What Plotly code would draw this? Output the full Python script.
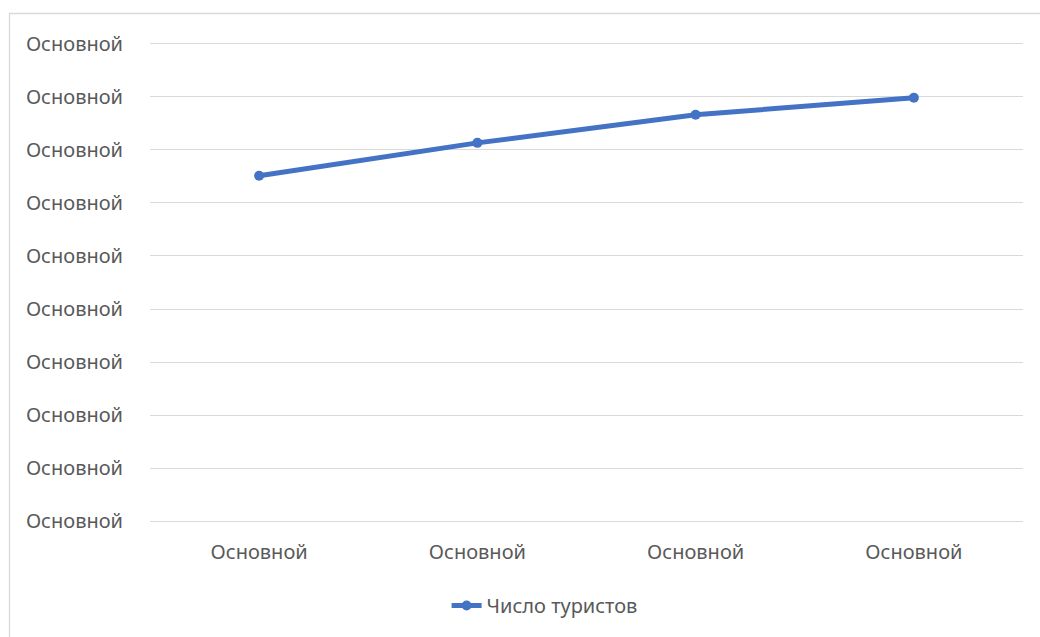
import plotly.graph_objects as go

categories = ["Основной", "Основной", "Основной", "Основной"]
tourists = [6.51, 7.13, 7.66, 7.98]
y_tick_values = [0, 1, 2, 3, 4, 5, 6, 7, 8, 9]
y_tick_labels = ["Основной"] * 10
series_name = "Число туристов"

x_idx = list(range(len(categories)))

fig = go.Figure()
fig.add_trace(go.Scatter(
    x=x_idx, y=tourists, mode="lines+markers", name=series_name,
    line=dict(color="#4472C4", width=5),
    marker=dict(color="#4472C4", size=10),
))

font_family = "Noto Sans, Open Sans, sans-serif"
fig.update_layout(
    width=1040, height=637,
    margin=dict(l=150, r=17, t=42, b=114),
    paper_bgcolor="white", plot_bgcolor="white",
    font=dict(family=font_family, size=20, color="#595959"),
    showlegend=True,
    legend=dict(orientation="h", x=0.452, xanchor="center", y=-0.131, yanchor="top",
                font=dict(size=20, color="#595959"), itemwidth=30),
    xaxis=dict(
        range=[-0.5, 3.5], tickvals=x_idx, ticktext=categories,
        showgrid=False, zeroline=False, showline=False,
        ticks="outside", ticklen=11, tickcolor="white",
    ),
    yaxis=dict(
        range=[-0.03, 9.03], tickvals=y_tick_values, ticktext=y_tick_labels,
        showgrid=True, gridcolor="#D9D9D9", gridwidth=1.3,
        zeroline=False, showline=False,
        ticks="outside", ticklen=22, tickcolor="white",
    ),
    shapes=[dict(type="rect", xref="paper", yref="paper",
                 x0=(9.5 - 150) / 873, x1=1.2, y0=-0.5, y1=(523 - 13.5) / 481,
                 line=dict(color="#D9D9D9", width=1.3), layer="below")],
)

fig.write_html("out.html")
